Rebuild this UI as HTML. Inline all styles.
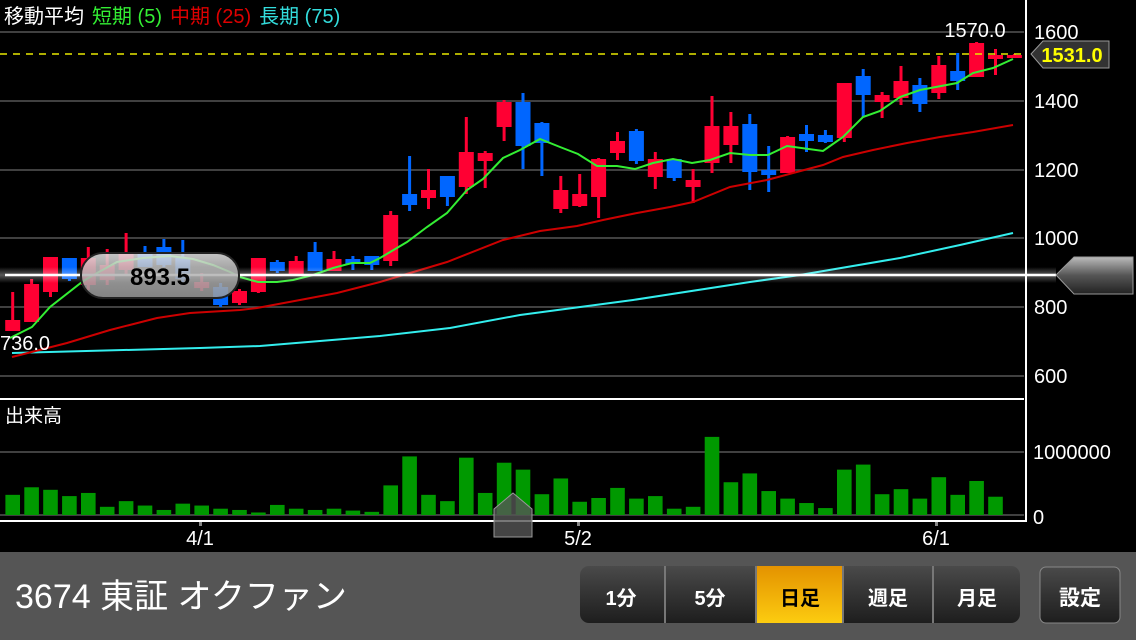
<!DOCTYPE html>
<html><head><meta charset="utf-8"><style>
html,body{margin:0;padding:0;background:#000;width:1136px;height:640px;overflow:hidden}
svg{display:block}
text{font-family:"Liberation Sans","Noto Sans CJK JP",sans-serif}
</style></head><body>
<svg id="s" width="1136" height="640" viewBox="0 0 1136 640" xmlns="http://www.w3.org/2000/svg">
<defs>
<linearGradient id="pill" x1="0" y1="0" x2="0" y2="1"><stop offset="0" stop-color="#e8e8e8" stop-opacity=".85"/><stop offset=".5" stop-color="#b0b0b0" stop-opacity=".85"/><stop offset="1" stop-color="#9a9a9a" stop-opacity=".85"/></linearGradient>
<linearGradient id="btn" x1="0" y1="0" x2="0" y2="1"><stop offset="0" stop-color="#4a4a4a"/><stop offset=".5" stop-color="#333"/><stop offset="1" stop-color="#1e1e1e"/></linearGradient>
<linearGradient id="sel" x1="0" y1="0" x2="0" y2="1"><stop offset="0" stop-color="#e49200"/><stop offset="1" stop-color="#fccc10"/></linearGradient>
<linearGradient id="arr" x1="0" y1="0" x2="0" y2="1"><stop offset="0" stop-color="#bbb"/><stop offset=".5" stop-color="#555"/><stop offset="1" stop-color="#222"/></linearGradient>
<linearGradient id="hl" x1="0" y1="0" x2="0" y2="1"><stop offset="0" stop-color="#fff" stop-opacity="0"/><stop offset=".5" stop-color="#fff" stop-opacity=".35"/><stop offset="1" stop-color="#fff" stop-opacity="0"/></linearGradient>
</defs>
<g stroke="#555" stroke-width="1.5">
<line x1="0" y1="32" x2="1024" y2="32"/><line x1="0" y1="101" x2="1024" y2="101"/><line x1="0" y1="170" x2="1024" y2="170"/><line x1="0" y1="238" x2="1024" y2="238"/><line x1="0" y1="307" x2="1024" y2="307"/><line x1="0" y1="376" x2="1024" y2="376"/><line x1="0" y1="452" x2="1024" y2="452"/><line x1="0" y1="515" x2="1024" y2="515"/>
</g>
<line x1="0" y1="399" x2="1024" y2="399" stroke="#fff" stroke-width="2"/>
<line x1="0" y1="521" x2="1026" y2="521" stroke="#fff" stroke-width="2"/>
<line x1="1026" y1="0" x2="1026" y2="522" stroke="#fff" stroke-width="2"/>
<g id="cand"></g>
<g id="vol"></g>
<line x1="0" y1="54" x2="1024" y2="54" stroke="#e8e800" stroke-width="1.5" stroke-dasharray="7,6"/>
<polyline fill="none" stroke="#33eeee" stroke-width="2" points="12,353 200,348 260,346 380,336 450,328 520,315 633,300 750,282 800,275 900,258 960,245 1013,233"/>
<polyline fill="none" stroke="#cc0000" stroke-width="2" points="12,357 67,343 110,330 157,318 190,313 240,310 257,308 300,300 337,293 380,282 410,273 447,262 503,240 540,231 577,226 603,220 637,213 670,207 693,202 730,187 767,180 793,173 823,165 843,157 873,150 907,143 940,137 973,132 1013,125"/>
<polyline fill="none" stroke="#33ee33" stroke-width="2" points="10,338 32,327 50,307 82,282 90,277 117,262 143,258 170,256 193,259 213,265 230,272 240,277 258,282 277,282 293,280 313,275 333,268 352,263 370,263 380,258 407,242 427,227 447,213 467,190 483,179 503,158 520,150 540,139 560,147 578,154 597,166 617,166 635,169 653,163 673,159 692,163 710,160 730,153 750,155 768,155 787,146 823,151 843,137 863,117 880,111 900,97 920,90 957,83 973,73 993,68 1013,59"/>
<rect x="0" y="267" width="1056" height="16" fill="url(#hl)"/>
<line x1="5" y1="275" x2="1056" y2="275" stroke="#fff" stroke-width="2.5"/>
<rect x="81" y="253" width="158" height="45" rx="22" fill="url(#pill)" stroke="#222" stroke-width="2"/>
<text x="160" y="285" font-size="24" font-weight="bold" text-anchor="middle" fill="#000">893.5</text>
<polygon points="1056,275 1074,257 1133,257 1133,294 1074,294" fill="url(#arr)" stroke="#999" stroke-width="1"/>
<text x="975" y="37" font-size="20" text-anchor="middle" fill="#fff">1570.0</text>
<text x="0" y="350" font-size="20" fill="#fff">736.0</text>
<polygon points="1031,54 1043,41 1109,41 1109,68 1043,68" fill="#333" stroke="#999" stroke-width="1"/>
<text x="1072" y="62" font-size="20" font-weight="bold" text-anchor="middle" fill="#ffff00">1531.0</text>
<g font-size="20" fill="#fff">
<text x="1034" y="39">1600</text><text x="1034" y="108">1400</text><text x="1034" y="177">1200</text><text x="1034" y="245">1000</text><text x="1034" y="314">800</text><text x="1034" y="383">600</text>
<text x="1033" y="459">1000000</text><text x="1033" y="524">0</text>
<text x="200" y="545" text-anchor="middle">4/1</text><text x="578" y="545" text-anchor="middle">5/2</text><text x="936" y="545" text-anchor="middle">6/1</text>
</g>
<g fill="#888"><rect x="199" y="522" width="3" height="4"/><rect x="577" y="522" width="3" height="4"/><rect x="935" y="522" width="3" height="4"/></g>
<text x="5" y="422" font-size="19" fill="#fff">出来高</text>
<text x="4" y="23" font-size="20"><tspan fill="#fff">移動平均</tspan><tspan fill="#33ee33" dx="8">短期 (5)</tspan><tspan fill="#dd0000" dx="8">中期 (25)</tspan><tspan fill="#33dddd" dx="8">長期 (75)</tspan></text>
<polygon points="494,509 513,493 532,509 532,537 494,537" fill="#555" fill-opacity=".8" stroke="#999" stroke-width="1"/>
<rect x="0" y="552" width="1136" height="88" fill="#555"/>
<text x="15" y="608" font-size="34" fill="#fff">3674 東証 オクファン</text>
<rect x="580" y="566" width="440" height="57" rx="9" fill="url(#btn)"/>
<rect x="757" y="566" width="85" height="57" fill="url(#sel)"/>
<g stroke="#777" stroke-width="2"><line x1="665" y1="566" x2="665" y2="623"/><line x1="756" y1="566" x2="756" y2="623"/><line x1="843" y1="566" x2="843" y2="623"/><line x1="933" y1="566" x2="933" y2="623"/></g>
<g font-size="20" font-weight="bold" fill="#fff" text-anchor="middle">
<text x="621" y="605">1分</text><text x="710" y="605">5分</text><text x="800" y="605" fill="#000">日足</text><text x="888" y="605">週足</text><text x="977" y="605">月足</text>
</g>
<rect x="1040" y="567" width="80" height="56" rx="6" fill="url(#btn)" stroke="#888" stroke-width="1"/>
<text x="1080" y="605" font-size="21" font-weight="bold" fill="#fff" text-anchor="middle">設定</text>
</svg>
<script>
var C=[
['r',292,331,320,331],['r',279,322,284,322],['r',257,297,257,292],['b',258,281,258,279],['r',247,290,258,285],
['r',249,285,265,280],['r',233,275,254,270],['b',246,267,254,267],['b',239,267,247,265],['b',240,282,258,279],
['r',273,291,282,288],['b',283,307,287,305],['r',289,305,291,303],['r',258,293,258,292],['b',260,273,262,271],
['r',256,274,261,274],['b',242,271,252,271],['r',251,271,259,271],['b',256,270,259,264],['b',256,270,256,265],
['r',211,266,215,261],['b',156,211,194,205],['r',169,209,190,198],['b',176,206,176,197],['r',117,194,152,187],
['r',151,188,153,161],['r',100,141,102,127],['b',93,169,102,146],['b',122,176,123,143],['r',176,213,190,209],
['r',174,207,194,206],['r',158,218,159,197],['r',132,160,141,153],['b',129,164,131,161],['r',152,189,159,177],
['b',159,181,159,178],['r',169,203,180,187],['r',96,173,126,163],['r',112,163,126,145],['b',114,190,124,172],
['b',146,192,170,175],['r',136,173,137,173],['b',125,152,134,141],['b',130,143,135,142],['r',83,142,83,138],
['b',69,117,76,95],['r',92,118,95,102],['r',66,105,81,98],['b',78,112,85,104],['r',56,99,65,93],
['b',53,90,71,81],['r',42,77,43,77],['r',49,75,55,59],['r',54,58,55,58]];
var V=[.32,.44,.40,.30,.35,.13,.22,.15,.08,.18,.15,.10,.08,.04,.16,.10,.08,.10,.07,.05,.47,.93,.32,.22,.91,.35,.83,.72,.33,.58,.21,.27,.43,.26,.30,.10,.13,1.24,.52,.66,.38,.26,.19,.11,.72,.80,.33,.41,.26,.60,.32,.54,.29];
var ns="http://www.w3.org/2000/svg",g=document.getElementById('cand'),v=document.getElementById('vol');
function r(p,x,y,w,h,f){var e=document.createElementNS(ns,'rect');e.setAttribute('x',x);e.setAttribute('y',y);e.setAttribute('width',w);e.setAttribute('height',Math.max(h,2));e.setAttribute('fill',f);p.appendChild(e);}
C.forEach(function(c,i){var x=12.7+i*18.9,f=c[0]=='r'?'#ff0033':'#0066ff';r(g,x-1.5,c[1],3,c[2]-c[1],f);r(g,x-7.5,c[3],15,c[4]-c[3],f);});
V.forEach(function(h,i){var x=12.7+i*18.9,hh=h*63;r(v,x-7.3,515-hh,14.6,hh,'#009900');});
</script>
</body></html>
